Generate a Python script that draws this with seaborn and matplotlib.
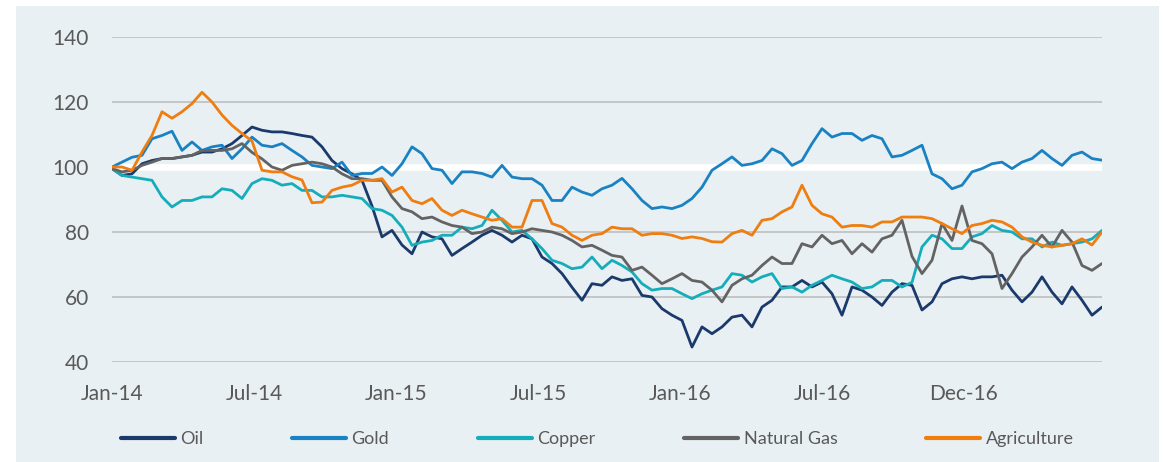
import matplotlib
matplotlib.use("Agg")
import matplotlib.pyplot as plt
import seaborn as sns
import pandas as pd
import numpy as np
from matplotlib.patches import Rectangle

# index levels (Jan-14 = 100), every two weeks
oil = [99.5, 97.4, 97.9, 101, 102, 102.6, 102.6, 103.1, 103.6, 104.6, 104.6,
       105.6, 107.2, 109.7, 112.3, 111.3, 110.8, 110.8, 110.3, 109.7, 109.2,
       106.2, 102, 99.5, 97.9, 95.9, 88, 78.5, 80.5, 76, 73.3,
       80, 78.5, 77.9, 72.8, 74.9, 76.9, 79, 80.5, 79, 76.9,
       79, 77.9, 72.3, 70.3, 67.2, 63, 59, 64.1, 63.6, 66.2,
       65.1, 65.6, 60.5, 60, 56.4, 54.4, 52.8, 44.6, 50.8, 48.7,
       50.8, 53.8, 54.4, 50.8, 56.9, 59, 63.1, 63.1, 65.1, 63.1,
       64.6, 61, 54.4, 63.1, 62.1, 60, 57.4, 61.5, 64.1, 63.6,
       56, 58.5, 64.1, 65.6, 66.2, 65.6, 66.2, 66.2, 66.7, 62.1,
       58.5, 61.5, 66.2, 61.5, 57.9, 63.1, 59, 54.4, 56.9]
gold = [100, 101.5, 103, 103.6, 108.7, 109.7, 111, 105.1, 107.7, 105.1, 106.2,
        106.7, 102.6, 105.6, 109.2, 106.7, 106.2, 107.2, 105.1, 103.1, 100.5,
        100, 99.5, 101.5, 97.4, 98, 98, 100, 97.4, 101, 106.2,
        104.1, 99.5, 99, 94.9, 98.5, 98.5, 98, 96.9, 100.5, 96.9,
        96.4, 96.4, 94.4, 89.7, 89.7, 93.8, 92.3, 91.3, 93.3, 94.4,
        96.5, 93.3, 89.7, 87.2, 87.7, 87.2, 88.2, 90.3, 93.8, 99,
        101, 103.1, 100.5, 101, 102, 105.6, 104.1, 100.5, 102, 107.2,
        111.8, 109.2, 110.3, 110.3, 108.2, 109.7, 108.7, 103.1, 103.6, 105.1,
        106.7, 97.9, 96.4, 93.3, 94.4, 98.5, 99.5, 101, 101.5, 99.5,
        101.5, 102.6, 105.1, 102.6, 100.5, 103.6, 104.6, 102.6, 102.1]
copper = [99.5, 97.4, 96.9, 96.4, 95.9, 90.8, 87.7, 89.7, 89.7, 90.8, 90.8,
          93.3, 92.8, 90.3, 94.9, 96.4, 95.9, 94.4, 94.9, 92.8, 92.8,
          90.8, 90.8, 91.3, 90.8, 90.3, 87.2, 86.7, 85.1, 81.5, 75.9,
          76.9, 77.4, 79, 79, 81.5, 81, 82, 86.7, 83.6, 80,
          80.5, 77.9, 74.9, 71.3, 70.3, 68.7, 69.2, 72.3, 68.7, 71.3,
          69.7, 67.7, 64.1, 62.1, 62.6, 62.6, 61, 59.5, 61, 62.1,
          63.1, 67.2, 66.7, 64.6, 66.2, 67.2, 62.6, 63.1, 61.5, 63.6,
          65.1, 66.7, 65.6, 64.6, 62.6, 63.1, 65.1, 65.1, 63.1, 64.5,
          75.4, 79, 77.9, 74.9, 74.9, 78.5, 79.5, 82, 80.5, 80,
          77.9, 77.9, 75.4, 76.9, 75.9, 76.4, 76.9, 77.9, 80.5]
natural_gas = [99.5, 98.5, 99, 100.5, 101.5, 102.6, 102.6, 103.1, 103.6, 105.1, 105.1,
               105.1, 105.6, 107.2, 104.5, 102.5, 100, 99, 100.5, 101, 101.5,
               101, 100, 97.9, 96.4, 96.4, 95.9, 95.9, 90.8, 87.2, 86.2,
               84.1, 84.6, 83.1, 82, 81.5, 79.5, 80, 81.5, 81, 79.5,
               80, 81, 80.5, 80, 79, 77.4, 75.4, 75.9, 74.4, 72.8,
               72.3, 68.2, 69.2, 66.7, 64.1, 65.6, 67.2, 65.1, 64.6, 62.1,
               58.5, 63.6, 65.6, 66.7, 69.7, 72.3, 70.3, 70.3, 76.4, 75.4,
               79, 76.4, 77.4, 73.3, 76.4, 73.8, 77.9, 79, 83.6, 72.5,
               67.2, 71.3, 82.6, 77.4, 88, 77.4, 76.4, 73.3, 62.6, 67.2,
               72.3, 75.4, 79, 75.4, 80.5, 76.9, 69.7, 68.2, 70.3]
agriculture = [100, 100, 99, 104.6, 109.7, 117, 115, 117, 119.5, 123, 120,
               116, 112.8, 110.3, 108, 99, 98.5, 98.5, 97, 96, 89,
               89.2, 92.8, 93.8, 94.4, 95.9, 95.9, 96.4, 92.3, 93.8, 89.7,
               88.7, 90.3, 86.7, 85.1, 86.7, 85.6, 84.6, 83.6, 84.1, 81.5,
               81.5, 89.7, 89.7, 82.6, 81.5, 79, 77.4, 79, 79.5, 81.5,
               81, 81, 79, 79.5, 79.5, 79, 78, 78.5, 78, 77,
               76.9, 79.5, 80.5, 79, 83.6, 84.1, 86.2, 87.7, 94.4, 88.2,
               85.6, 84.6, 81.5, 82, 82, 81.5, 83.1, 83.1, 84.6, 84.6,
               84.6, 84.1, 82.6, 81, 79.5, 82, 82.6, 83.6, 83.1, 81.5,
               78.5, 76.9, 75.9, 75.4, 75.9, 76.4, 77.9, 76, 80]

series_names = ["Oil", "Gold", "Copper", "Natural Gas", "Agriculture"]
series_colors = ["#1b3a6b", "#1a82c2", "#16adbb", "#636363", "#ef7d10"]
tick_labels = ["Jan-14", "Jul-14", "Jan-15", "Jul-15", "Jan-16", "Jul-16", "Dec-16"]
y_ticks = [40, 60, 80, 100, 120, 140]

BG = "#e8f0f3"
TEXT = "#595959"

sns.set_theme(style="white")
plt.rcParams["font.family"] = ["Lato", "DejaVu Sans"]

frames = []
for name, vals in zip(series_names, [oil, gold, copper, natural_gas, agriculture]):
    frames.append(pd.DataFrame({"period": np.arange(len(vals)), "value": vals, "series": name}))
df = pd.concat(frames, ignore_index=True)

fig = plt.figure(figsize=(11.63, 4.62), dpi=100)
fig.patch.set_facecolor("white")
# light panel behind the whole chart
panel = Rectangle((16 / 1163, 0), (1159 - 16) / 1163, (462 - 6) / 462,
                  transform=fig.transFigure, facecolor=BG, edgecolor="none", zorder=-10)
fig.add_artist(panel)
ax = fig.add_axes([112 / 1163, 100 / 462, 990 / 1163, 325 / 462])
ax.set_facecolor(BG)
ax.set_zorder(1)

for y in y_ticks:
    if y == 100:
        ax.axhline(y, color="white", lw=4.8, zorder=1)
    else:
        ax.axhline(y, color="#bfbfbf", lw=1.2, zorder=1)

sns.lineplot(data=df, x="period", y="value", hue="series", hue_order=series_names,
             palette=series_colors, linewidth=2.0, ax=ax, zorder=3)

ax.set_xlim(0, len(oil) - 1)
ax.set_ylim(40, 140)
ax.set_yticks(y_ticks)
ax.set_yticklabels([str(v) for v in y_ticks])
ax.set_xticks(np.arange(len(tick_labels)) * 14.2)
ax.set_xticklabels(tick_labels)
ax.tick_params(axis="both", length=0, labelsize=15, colors=TEXT)
ax.tick_params(axis="x", pad=16)
ax.tick_params(axis="y", pad=16.5)
ax.set_xlabel("")
ax.set_ylabel("")
for s in ax.spines.values():
    s.set_visible(False)
ax.grid(False)

handles, labels = ax.get_legend_handles_labels()
leg = ax.legend(handles, labels, loc="center", bbox_to_anchor=(0.49, -0.237), ncol=5,
                frameon=False, fontsize=13, handlelength=3.0, handletextpad=0.3,
                columnspacing=4.9)
for line in leg.get_lines():
    line.set_linewidth(3.0)
for t in leg.get_texts():
    t.set_color(TEXT)

plt.savefig("out.png", dpi=100, facecolor=fig.get_facecolor())
plt.close()
